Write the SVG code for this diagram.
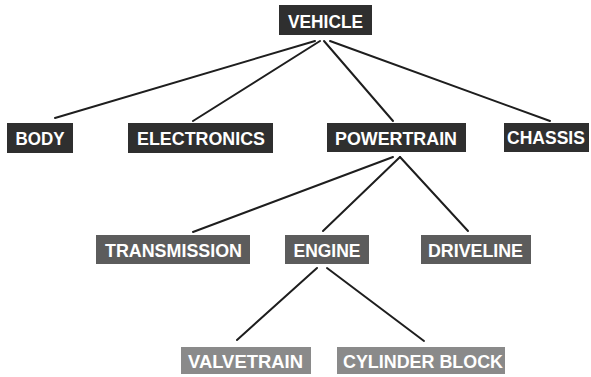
<svg xmlns="http://www.w3.org/2000/svg" width="591" height="377" viewBox="0 0 591 377">
  <style>
    .lvl1 { fill: #2f2f2f; }
    .lvl2 { fill: #5c5c5c; }
    .lvl3 { fill: #8a8a8a; }
    .label { font-family: "Liberation Sans", Arial, sans-serif; font-weight: bold; font-size: 19px; fill: #ffffff; text-anchor: middle; }
    .link { stroke: #1e1e1e; stroke-width: 2; fill: none; stroke-linecap: round; }
  </style>
  <rect width="591" height="377" fill="#ffffff"/>

  <!-- connectors -->
  <g id="connectors">
    <line class="link" x1="315" y1="41" x2="55" y2="118"/>
    <line class="link" x1="320" y1="41" x2="193" y2="121"/>
    <line class="link" x1="324" y1="41" x2="393" y2="121"/>
    <line class="link" x1="330" y1="41" x2="550" y2="121"/>
    <line class="link" x1="393" y1="157" x2="193" y2="232"/>
    <line class="link" x1="400" y1="157" x2="323" y2="231"/>
    <line class="link" x1="400" y1="157" x2="468" y2="231"/>
    <line class="link" x1="317" y1="268" x2="237" y2="340"/>
    <line class="link" x1="327" y1="268" x2="424" y2="341"/>
  </g>

  <!-- nodes -->
  <g id="vehicle">
    <rect class="lvl1" x="279" y="5" width="93" height="30"/>
    <text class="label" x="325.5" y="27.5" textLength="75" lengthAdjust="spacingAndGlyphs">VEHICLE</text>
  </g>
  <g id="body">
    <rect class="lvl1" x="7" y="123" width="66" height="30"/>
    <text class="label" x="40" y="145" textLength="49" lengthAdjust="spacingAndGlyphs">BODY</text>
  </g>
  <g id="electronics">
    <rect class="lvl1" x="128" y="123" width="145" height="30"/>
    <text class="label" x="201" y="145" textLength="128" lengthAdjust="spacingAndGlyphs">ELECTRONICS</text>
  </g>
  <g id="powertrain">
    <rect class="lvl1" x="327" y="123" width="139" height="29"/>
    <text class="label" x="396" y="144.5" textLength="122" lengthAdjust="spacingAndGlyphs">POWERTRAIN</text>
  </g>
  <g id="chassis">
    <rect class="lvl1" x="504" y="123" width="85" height="29"/>
    <text class="label" x="546" y="144" style="font-size:17.5px">CHASSIS</text>
  </g>
  <g id="transmission">
    <rect class="lvl2" x="96" y="235" width="154" height="29"/>
    <text class="label" x="173.5" y="256.5" textLength="137" lengthAdjust="spacingAndGlyphs">TRANSMISSION</text>
  </g>
  <g id="engine">
    <rect class="lvl2" x="285" y="235" width="84" height="29"/>
    <text class="label" x="327" y="256.5" textLength="67" lengthAdjust="spacingAndGlyphs">ENGINE</text>
  </g>
  <g id="driveline">
    <rect class="lvl2" x="421" y="235" width="110" height="29"/>
    <text class="label" x="475.5" y="256.5" textLength="95" lengthAdjust="spacingAndGlyphs">DRIVELINE</text>
  </g>
  <g id="valvetrain">
    <rect class="lvl3" x="181" y="347" width="130" height="27"/>
    <text class="label" x="245.5" y="367.5" textLength="115" lengthAdjust="spacingAndGlyphs">VALVETRAIN</text>
  </g>
  <g id="cylinder-block">
    <rect class="lvl3" x="337" y="347" width="168" height="27"/>
    <text class="label" x="423" y="367.5" textLength="160" lengthAdjust="spacingAndGlyphs">CYLINDER BLOCK</text>
  </g>
</svg>
